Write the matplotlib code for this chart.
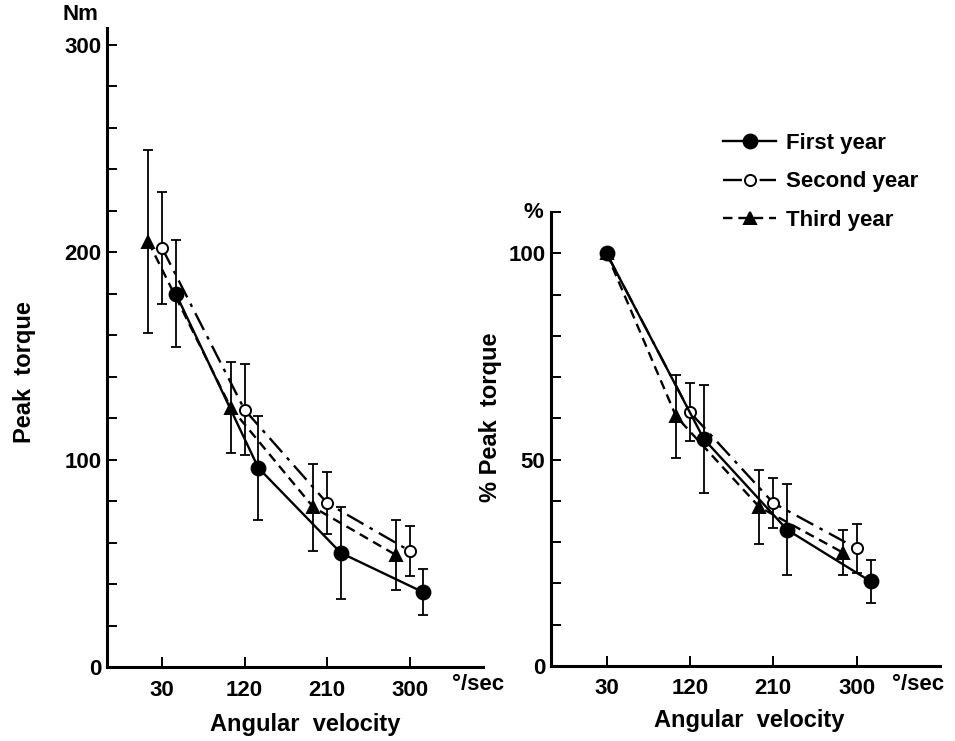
import numpy as np
import matplotlib
matplotlib.use('Agg')
import matplotlib.pyplot as plt
from matplotlib.ticker import FixedLocator, MultipleLocator

plt.rcParams['font.family'] = ['Liberation Sans', 'DejaVu Sans']
plt.rcParams['font.size'] = 16
plt.rcParams['font.weight'] = 'bold'

velocity = [30, 120, 210, 300]

# peak torque (Nm): mean and SD per year
torque_first = [180, 96, 55, 36]
torque_first_sd = [26, 25, 22, 11]
torque_second = [202, 124, 79, 56]
torque_second_sd = [27, 22, 15, 12]
torque_third = [205, 125, 77, 54]
torque_third_sd = [44, 22, 21, 17]

# % of peak torque at 30 deg/sec
pct_first = [100, 55, 33, 20.5]
pct_first_sd = [0, 13, 11, 5.3]
pct_second = [100, 61.5, 39.5, 28.5]
pct_second_sd = [0, 7, 6, 6]
pct_third = [100, 60.5, 38.5, 27.5]
pct_third_sd = [0, 10, 9, 5.5]

labels = ['First year', 'Second year', 'Third year']

# style per series: offset on x, line dashes, marker
styles = [
    dict(shift=15, ls='-', marker='o', mfc='black', ms=10),
    dict(shift=0, ls=(0, (8, 3, 1.5, 3)), marker='o', mfc='white', ms=8),
    dict(shift=-15, ls=(0, (4, 2.5)), marker='^', mfc='black', ms=9),
]

fig = plt.figure(figsize=(9.55, 7.41), dpi=100)
ax1 = fig.add_axes([107/955, 1-667/741, 376/955, 639/741])
ax2 = fig.add_axes([551/955, 1-666/741, 389/955, 454/741])


def draw(ax, series, fixed_first):
    handles = []
    # draw third, second, then first so the first year sits on top
    for i in [2, 1, 0]:
        y, sd = series[i]
        st = styles[i]
        x = np.array(velocity, dtype=float) + st['shift']
        if fixed_first:
            x[0] = velocity[0]
        y = np.array(y, dtype=float)
        sd = np.array(sd, dtype=float)
        m = sd > 0
        ax.errorbar(x[m], y[m], yerr=sd[m], fmt='none', ecolor='black',
                    elinewidth=1.3, capsize=3.5, capthick=1.3, zorder=2 + (2 - i))
        ln, = ax.plot(x, y, color='black', lw=1.7, ls=st['ls'],
                      marker=st['marker'], mfc=st['mfc'], mec='black',
                      mew=1.4, ms=st['ms'], zorder=3 + (2 - i), label=labels[i])
        handles.append(ln)
    return handles[::-1]


h = draw(ax1, [(torque_first, torque_first_sd),
               (torque_second, torque_second_sd),
               (torque_third, torque_third_sd)], False)
draw(ax2, [(pct_first, pct_first_sd),
           (pct_second, pct_second_sd),
           (pct_third, pct_third_sd)], True)

ax1.set_xlim(-30, 380)
ax1.set_ylim(0, 308)
ax1.yaxis.set_major_locator(FixedLocator([0, 100, 200, 300]))
ax1.yaxis.set_minor_locator(MultipleLocator(20))

ax2.set_xlim(-30, 390)
ax2.set_ylim(0, 110)
ax2.yaxis.set_major_locator(FixedLocator([0, 50, 100]))
ax2.yaxis.set_minor_locator(MultipleLocator(10))

for ax in (ax1, ax2):
    ax.set_xticks(velocity)
    for s in ['top', 'right']:
        ax.spines[s].set_visible(False)
    for s in ['left', 'bottom']:
        ax.spines[s].set_linewidth(2.2)
    ax.tick_params(which='both', direction='in', length=7, width=1.4, labelsize=16)
    ax.tick_params(axis='y', pad=4)
    ax.tick_params(axis='x', pad=9)

fig.text(80/955, 1-15/741, 'Nm', ha='center', va='center')
fig.text(533/955, 1-213/741, '%', ha='center', va='center')
fig.text(478/955, 1-684/741, '°/sec', ha='center', va='center')
fig.text(918/955, 1-685/741, '°/sec', ha='center', va='center')
fig.text(305/955, 1-725/741, 'Angular  velocity', ha='center', va='center', fontsize=17)
fig.text(749/955, 1-720/741, 'Angular  velocity', ha='center', va='center', fontsize=17)
fig.text(25/955, 1-372/741, 'Peak  torque', ha='center', va='center',
         rotation=90, fontsize=17)
fig.text(490/955, 1-417/741, '% Peak  torque', ha='center', va='center',
         rotation=90, fontsize=17)

fig.legend(handles=h, labels=labels, loc='upper left',
           bbox_to_anchor=(703/955, 1-113/741), frameon=False,
           handlelength=2.4, handletextpad=0.45, labelspacing=0.78,
           prop={'size': 16, 'weight': 'bold'})

fig.savefig('out.png', dpi=100)
